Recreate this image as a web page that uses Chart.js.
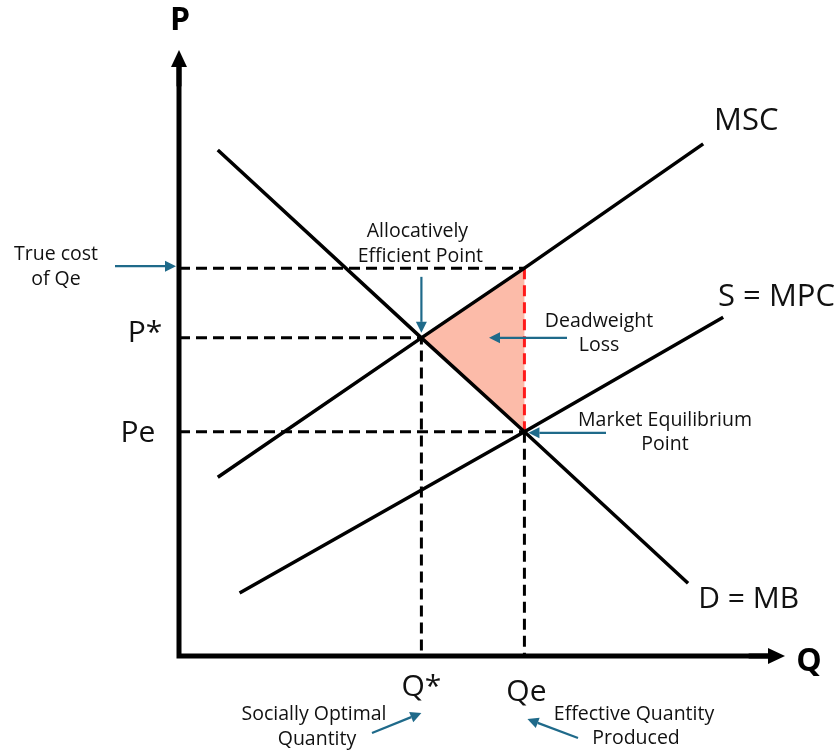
<!DOCTYPE html>
<html>
<head>
<meta charset="utf-8">
<script src="https://cdn.jsdelivr.net/npm/chart.js@4.4.1/dist/chart.umd.min.js"></script>
<style>
  html, body { margin: 0; padding: 0; background: #ffffff; }
  #wrap { width: 839px; height: 751px; position: relative; }
</style>
</head>
<body>
<div id="wrap"><canvas id="c"></canvas></div>
<script>
// Key quantities and prices (axis units 0..100)
const qStar = 40;        // socially optimal quantity
const qEq = 57;          // quantity produced at market equilibrium
const pStar = 52.5;      // price at allocative efficiency
const pEq = 37;          // market equilibrium price
const pTrueCost = 64;    // marginal social cost of Qe

// Curves as [quantity, price] points
const demandMB = [[6.4, 83.5], [qStar, pStar], [qEq, pEq], [84, 12]];
const costMSC = [[6.4, 29.5], [qStar, pStar], [qEq, pTrueCost], [86.5, 84.5]];
const supplyMPC = [[10, 10.4], [qEq, pEq], [89.8, 55.9]];

// Axis / curve labels
const curveLabels = ['MSC', 'S = MPC', 'D = MB'];
const priceLabels = ['P*', 'Pe'];
const quantityLabels = ['Q*', 'Qe'];

const pts = arr => arr.map(([x, y]) => ({ x, y }));
const FONT = '"Open Sans", "DejaVu Sans", sans-serif';
const TEAL = '#1f6a8a';

const dashStyle = { borderColor: '#000', borderWidth: 3, borderDash: [11, 6], pointRadius: 0, fill: false, tension: 0 };

const datasets = [
  // deadweight-loss triangle
  { data: pts([[qStar, pStar], [qEq, pTrueCost], [qEq, pEq], [qStar, pStar]]),
    borderWidth: 0, borderColor: 'rgba(0,0,0,0)', backgroundColor: '#fcbba9',
    fill: 'shape', pointRadius: 0, order: 10 },
  // guide lines to the axes
  { data: pts([[0, pTrueCost], [qEq, pTrueCost]]), ...dashStyle, order: 6 },
  { data: pts([[0, pStar], [qStar, pStar], [qStar, 0]]), ...dashStyle, order: 6 },
  { data: pts([[0, pEq], [qEq, pEq]]), ...dashStyle, order: 6 },
  { data: pts([[qEq, pEq], [qEq, 0]]), ...dashStyle, order: 6 },
  { data: pts([[qEq, pTrueCost], [qEq, pEq]]), ...dashStyle, borderColor: '#ff1a1a', order: 5 },
  // curves
  { data: pts(demandMB), borderColor: '#000', borderWidth: 3.5, pointRadius: 0, fill: false, order: 1 },
  { data: pts(costMSC), borderColor: '#000', borderWidth: 3.5, pointRadius: 0, fill: false, order: 1 },
  { data: pts(supplyMPC), borderColor: '#000', borderWidth: 3.5, pointRadius: 0, fill: false, order: 1 }
];

function arrow(ctx, x1, y1, x2, y2, color, lw, head, half) {
  const a = Math.atan2(y2 - y1, x2 - x1);
  const bx = x2 - head * Math.cos(a), by = y2 - head * Math.sin(a);
  ctx.save();
  ctx.strokeStyle = color; ctx.fillStyle = color; ctx.lineWidth = lw;
  ctx.beginPath(); ctx.moveTo(x1, y1); ctx.lineTo(bx, by); ctx.stroke();
  ctx.beginPath();
  ctx.moveTo(x2, y2);
  ctx.lineTo(bx + half * Math.sin(a), by - half * Math.cos(a));
  ctx.lineTo(bx - half * Math.sin(a), by + half * Math.cos(a));
  ctx.closePath(); ctx.fill();
  ctx.restore();
}

function text(ctx, str, x, y, size, weight, color) {
  ctx.save();
  ctx.font = `${weight || 'normal'} ${size}px ${FONT}`;
  ctx.fillStyle = color || '#111';
  ctx.textAlign = 'center';
  ctx.textBaseline = 'middle';
  ctx.fillText(str, x, y);
  ctx.restore();
}

const diagram = {
  id: 'diagram',
  afterDatasetsDraw(chart) {
    const { ctx, scales: { x, y } } = chart;
    const X = v => x.getPixelForValue(v), Y = v => y.getPixelForValue(v);
    const x0 = X(0), y0 = Y(0);

    // axes with arrowheads
    ctx.save();
    ctx.strokeStyle = '#000'; ctx.lineWidth = 5; ctx.lineCap = 'square';
    ctx.beginPath();
    ctx.moveTo(x0, Y(97)); ctx.lineTo(x0, y0); ctx.lineTo(X(97), y0);
    ctx.stroke();
    ctx.restore();
    arrow(ctx, x0, Y(94), x0, Y(100), '#000', 5, 17, 8);
    arrow(ctx, X(94), y0, X(100), y0, '#000', 5, 17, 8);

    text(ctx, 'P', x0 + 1, Y(100) - 29, 32, 'bold', '#000');
    text(ctx, 'Q', X(100) + 24, y0 + 6, 32, 'bold', '#000');

    // curve names
    text(ctx, curveLabels[0], X(93.6), Y(88.3), 31);
    text(ctx, curveLabels[1], X(98.6), Y(59.2), 31);
    text(ctx, curveLabels[2], X(94), Y(9.4), 30);

    // price / quantity marks
    text(ctx, priceLabels[0], x0 - 34, Y(pStar) - 4, 30);
    text(ctx, priceLabels[1], x0 - 41, Y(pEq) + 2, 30);
    text(ctx, quantityLabels[0], X(qStar), y0 + 31, 30);
    text(ctx, quantityLabels[1], X(qEq) + 2, y0 + 36, 30);

    // annotations
    const fs = 19.5;
    text(ctx, 'True cost', 56, Y(pTrueCost) - 14, fs);
    text(ctx, 'of Qe', 56, Y(pTrueCost) + 11, fs);
    arrow(ctx, 115, Y(pTrueCost) - 2, x0 - 3, Y(pTrueCost) - 2, TEAL, 2.2, 11, 5.5);

    text(ctx, 'Allocatively', X(qStar) - 4, Y(pStar) - 106, fs);
    text(ctx, 'Efficient Point', X(qStar) - 1, Y(pStar) - 81, fs);
    arrow(ctx, X(qStar), Y(pStar) - 61, X(qStar), Y(pStar) - 5, TEAL, 2.2, 11, 5.5);

    text(ctx, 'Deadweight', 599, 321, fs);
    text(ctx, 'Loss', 599, 345, fs);
    arrow(ctx, 567, Y(pStar), 489, Y(pStar), TEAL, 2.2, 11, 5.5);

    text(ctx, 'Market Equilibrium', 665, 420, fs);
    text(ctx, 'Point', 665, 444, fs);
    arrow(ctx, 606, Y(pEq) + 1, X(qEq) + 4, Y(pEq) + 1, TEAL, 2.2, 11, 5.5);

    text(ctx, 'Socially Optimal', 314, 714, fs);
    text(ctx, 'Quantity', 317, 739, fs);
    arrow(ctx, 372, 733, X(qStar), 713, TEAL, 2.2, 11, 5.5);

    text(ctx, 'Effective Quantity', 634, 714, fs);
    text(ctx, 'Produced', 636, 738, fs);
    arrow(ctx, 578, 738, X(qEq) + 3, 719, TEAL, 2.2, 11, 5.5);
  }
};

new Chart(document.getElementById('c'), {
  type: 'scatter',
  data: { datasets: datasets.map(d => ({ showLine: true, ...d })) },
  options: {
    responsive: true,
    maintainAspectRatio: false,
    animation: false,
    layout: { padding: { left: 179, right: 54, top: 50, bottom: 95 } },
    plugins: { legend: { display: false }, tooltip: { enabled: false } },
    scales: {
      x: { type: 'linear', min: 0, max: 100, display: false },
      y: { type: 'linear', min: 0, max: 100, display: false }
    }
  },
  plugins: [diagram]
});
</script>
</body>
</html>
